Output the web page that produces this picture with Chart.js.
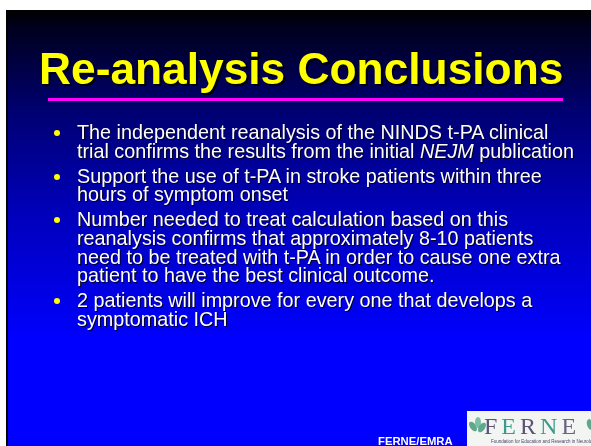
<!DOCTYPE html>
<html>
<head>
<meta charset="utf-8">
<script src="https://cdn.jsdelivr.net/npm/chart.js@4"></script>
<style>
  html, body { margin:0; padding:0; background:#ffffff; width:591px; height:446px; overflow:hidden; }
  #wrap { position:absolute; left:6px; top:10px; width:585px; height:436px; }
  #c { position:absolute; left:0; top:0; }
  .title { position:absolute; left:39px; top:47px; font-family:"Liberation Sans", Arial, sans-serif; font-weight:bold;
           font-size:44.3px; color:#ffff00; white-space:nowrap; text-shadow:2px 2px 0 #000000; line-height:1; }
  .bullets { position:absolute; left:0; top:0; }
  .line { position:absolute; left:77px; font-family:"Liberation Sans", Arial, sans-serif; font-size:19.8px; color:#ffffff;
          white-space:nowrap; text-shadow:1px 1px 0 #000022; line-height:1; }
  .dot { position:absolute; width:6px; height:6px; border-radius:50%; background:#ffff00; left:54px; }
  .footer { position:absolute; left:378px; top:436px; font-family:"Liberation Sans", Arial, sans-serif; font-weight:bold;
            font-size:11.3px; color:#ffffff; white-space:nowrap; line-height:1; }
  .logo { position:absolute; left:467px; top:411px; width:124px; height:35px; background:#f3f5f3; overflow:hidden; }
  .logo .word { position:absolute; left:17px; top:3px; font-family:"Liberation Serif", "DejaVu Serif", serif; font-size:24px;
                letter-spacing:4px; line-height:1; white-space:nowrap; }
  .logo .sub { position:absolute; left:24px; top:29px; font-family:"Liberation Sans", Arial, sans-serif; font-size:4.5px;
               color:#4a4466; white-space:nowrap; line-height:1; }
  .leaf { position:absolute; width:6px; height:11px; border-radius:50%; background:#5fa88e; }
</style>
</head>
<body>
<div id="wrap"><canvas id="c" width="585" height="436"></canvas></div>
<div class="title" id="title"></div>
<div class="bullets" id="bullets"></div>
<div class="footer" id="footer"></div>
<div class="logo">
  <div class="leaf" style="left:3px;top:10px;transform:rotate(-35deg);"></div>
  <div class="leaf" style="left:8px;top:6px;transform:rotate(0deg);background:#7bbfa6;"></div>
  <div class="leaf" style="left:12px;top:11px;transform:rotate(35deg);"></div>
  <div class="leaf" style="left:120px;top:8px;transform:rotate(-15deg);"></div>
  <div class="word" id="word"></div>
  <div class="sub" id="sub"></div>
</div>
<script>
// ---- content ----
const titleText = "Re-analysis Conclusions";
const bulletLines = [
  ["The independent reanalysis of the NINDS t-PA clinical",
   "trial confirms the results from the initial <i>NEJM</i> publication"],
  ["Support the use of t-PA in stroke patients within three",
   "hours of symptom onset"],
  ["Number needed to treat calculation based on this",
   "reanalysis confirms that approximately 8-10 patients",
   "need to be treated with t-PA in order to cause one extra",
   "patient to have the best clinical outcome."],
  ["2 patients will improve for every one that develops a",
   "symptomatic ICH"]
];
const footerText = "FERNE/EMRA";
const logoLetters = ["F","E","R","N","E"];
const logoColors = ["#5b5478","#3c9c8c","#5b5478","#3c9c8c","#6a6480"];
const logoSub = "Foundation for Education and Research in Neurological Emergencies";

// ---- text layout ----
document.getElementById('title').textContent = titleText;
document.getElementById('footer').textContent = footerText;
document.getElementById('sub').textContent = logoSub;
const word = document.getElementById('word');
logoLetters.forEach((ch, i) => {
  const s = document.createElement('span');
  s.textContent = ch; s.style.color = logoColors[i];
  word.appendChild(s);
});
const bl = document.getElementById('bullets');
const lineH = 18.6, paraGap = 6.5;
let y = 123;
bulletLines.forEach(par => {
  const d = document.createElement('div');
  d.className = 'dot'; d.style.top = (y + 7) + 'px';
  bl.appendChild(d);
  par.forEach(t => {
    const l = document.createElement('div');
    l.className = 'line'; l.style.top = y + 'px'; l.innerHTML = t;
    bl.appendChild(l);
    y += lineH;
  });
  y += paraGap;
});

// ---- slide background via Chart.js ----
const slideBg = {
  id: 'slideBg',
  beforeDraw(chart) {
    const ctx = chart.ctx, w = chart.width, h = chart.height;
    const g = ctx.createLinearGradient(0, 0, 0, 330);
    g.addColorStop(0, '#000000');
    g.addColorStop(0.05, '#00001c');
    g.addColorStop(0.3, '#000070');
    g.addColorStop(0.6, '#0000b8');
    g.addColorStop(1, '#0000ff');
    ctx.save();
    ctx.fillStyle = g;
    ctx.fillRect(0, 0, w, h);
    ctx.fillStyle = '#000000';
    ctx.fillRect(0, 0, 2, h);
    ctx.fillStyle = '#ff00ff';
    ctx.fillRect(42, 88, 515, 3);
    ctx.restore();
  }
};
new Chart(document.getElementById('c'), {
  type: 'scatter',
  data: { datasets: [] },
  options: {
    responsive: false, animation: false,
    layout: { padding: 0 },
    plugins: { legend: { display: false }, tooltip: { enabled: false } },
    scales: { x: { display: false }, y: { display: false } }
  },
  plugins: [slideBg]
});
</script>
</body>
</html>
